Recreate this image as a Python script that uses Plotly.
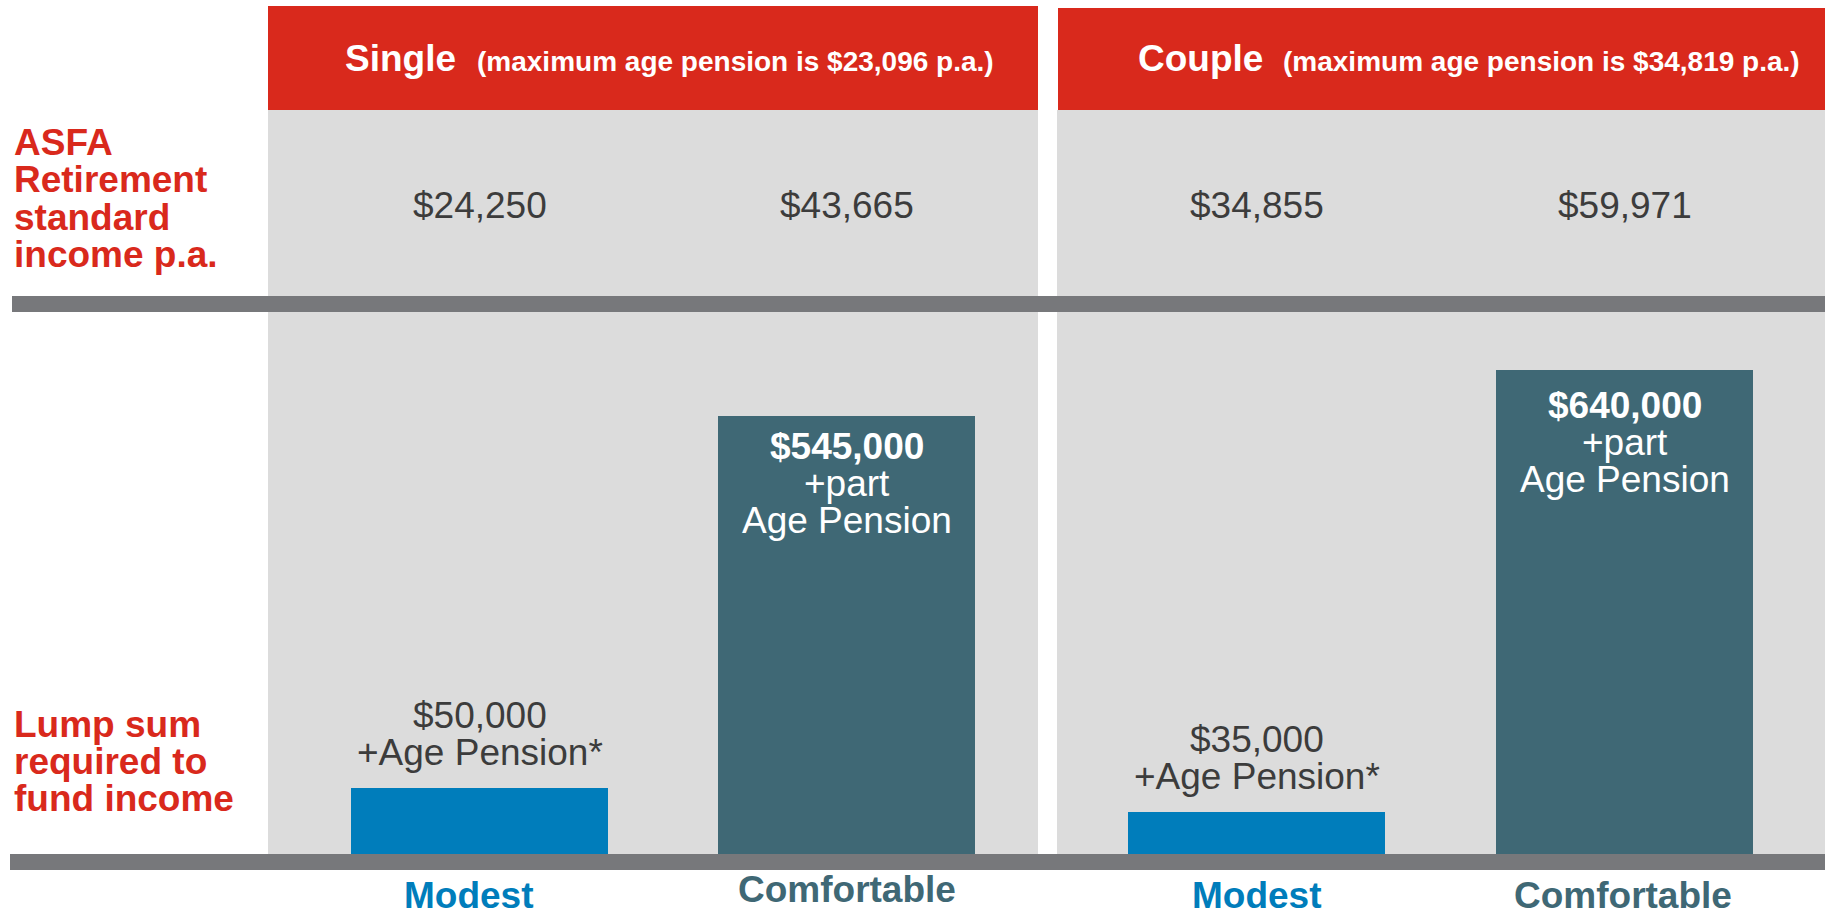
import plotly.graph_objects as go

# ---------------- data ----------------
levels = ["Modest", "Comfortable"]
groups = ["Single", "Couple"]
group_notes = ["(maximum age pension is $23,096 p.a.)", "(maximum age pension is $34,819 p.a.)"]
income_single = ["$24,250", "$43,665"]
income_couple = ["$34,855", "$59,971"]
lump_single = ["$50,000", "$545,000"]
lump_couple = ["$35,000", "$640,000"]
extra_single = ["+Age Pension*", "+part<br>Age Pension"]
extra_couple = ["+Age Pension*", "+part<br>Age Pension"]
# illustrative bar heights as drawn in the picture (relative units)
bar_single = [66, 438]
bar_couple = [42, 484]
row_label_top = ["ASFA", "Retirement", "standard", "income p.a."]
row_label_bottom = ["Lump sum", "required to", "fund income"]

# ---------------- style ----------------
W, H = 1825, 910
FONT = "Liberation Sans, Arial, sans-serif"
RED = "#d9291c"
GREY_BG = "#dcdcdc"
LINE = "#77787b"
TEXT = "#3c3c3c"
BAR_COLORS = ["#007dbb", "#3f6875"]
FS = 37


def X(px):
    return px / W


def Y(px):
    return 1 - px / H


fig = go.Figure()
fig.add_trace(go.Bar(x=levels, y=bar_single, marker_color=BAR_COLORS, marker_line_width=0,
                     width=0.70, xaxis="x", yaxis="y", hoverinfo="skip"))
fig.add_trace(go.Bar(x=levels, y=bar_couple, marker_color=BAR_COLORS, marker_line_width=0,
                     width=0.698, xaxis="x2", yaxis="y", hoverinfo="skip"))

axis_common = dict(showgrid=False, zeroline=False, showticklabels=False, ticks="",
                   showline=False, fixedrange=True, type="category")
fig.update_layout(
    width=W, height=H,
    margin=dict(l=0, r=0, t=0, b=0),
    paper_bgcolor="white", plot_bgcolor=GREY_BG,
    showlegend=False, bargap=0,
    font=dict(family=FONT, color=TEXT),
    xaxis=dict(domain=[X(268), X(1038)], range=[-0.5763, 1.5218], anchor="y", **axis_common),
    xaxis2=dict(domain=[X(1057), 1.0], range=[-0.5421, 1.5448], anchor="y", **axis_common),
    yaxis=dict(domain=[Y(854), Y(110)], range=[0, 744], showgrid=False, zeroline=False,
               showticklabels=False, showline=False, fixedrange=True),
)

shapes = [
    dict(type="rect", xref="paper", yref="paper", x0=X(268), x1=X(1038), y0=Y(110), y1=Y(6),
         fillcolor=RED, line_width=0, layer="above"),
    dict(type="rect", xref="paper", yref="paper", x0=X(1058), x1=1.0, y0=Y(110), y1=Y(8),
         fillcolor=RED, line_width=0, layer="above"),
    dict(type="rect", xref="paper", yref="paper", x0=X(12), x1=1.0, y0=Y(312), y1=Y(296),
         fillcolor=LINE, line_width=0, layer="above"),
    dict(type="rect", xref="paper", yref="paper", x0=X(10), x1=1.0, y0=Y(870), y1=Y(854),
         fillcolor=LINE, line_width=0, layer="above"),
]
fig.update_layout(shapes=shapes)

ann = []


def add(text, x, y, xref="paper", yref="paper", size=FS, color=TEXT, bold=False,
        xanchor="center", yanchor="middle", xshift=0, yshift=0):
    t = f"<b>{text}</b>" if bold else text
    ann.append(dict(text=t, x=x, y=y, xref=xref, yref=yref, showarrow=False,
                    font=dict(family=FONT, size=size, color=color),
                    xanchor=xanchor, yanchor=yanchor, xshift=xshift, yshift=yshift,
                    align="center"))


# headers
add(groups[0], X(343), Y(59), color="white", bold=True, xanchor="left")
add(group_notes[0], X(475), Y(62), size=28, color="white", bold=True, xanchor="left")
add(groups[1], X(1136), Y(59), color="white", bold=True, xanchor="left")
add(group_notes[1], X(1281), Y(62), size=28, color="white", bold=True, xanchor="left")

# left row labels
for i, t in enumerate(row_label_top):
    add(t, X(12), Y(142 + 37.5 * i), color=RED, bold=True, xanchor="left")
for i, t in enumerate(row_label_bottom):
    add(t, X(12), Y(724 + 37 * i), color=RED, bold=True, xanchor="left")

# income values
for xr, vals in (("x", income_single), ("x2", income_couple)):
    for lv, v in zip(levels, vals):
        add(v, lv, Y(206), xref=xr)

# lump-sum labels
inside_offset = {"x": 30, "x2": 35}
for xr, lumps, extras, bars in (("x", lump_single, extra_single, bar_single),
                                 ("x2", lump_couple, extra_couple, bar_couple)):
    # modest: text above the bar
    add(lumps[0], levels[0], bars[0], xref=xr, yref="y", yshift=73)
    add(extras[0], levels[0], bars[0], xref=xr, yref="y", yshift=36)
    # comfortable: text inside the bar
    off = inside_offset[xr]
    add(lumps[1], levels[1], bars[1], xref=xr, yref="y", color="white", bold=True, yshift=-off)
    for j, line in enumerate(extras[1].split("<br>")):
        add(line, levels[1], bars[1], xref=xr, yref="y", color="white",
            yshift=-(off + 37 * (j + 1)))

# category labels under the baseline
add(levels[0], levels[0], Y(895), xref="x", color=BAR_COLORS[0], bold=True, xshift=-11)
add(levels[1], levels[1], Y(889), xref="x", color=BAR_COLORS[1], bold=True)
add(levels[0], levels[0], Y(895), xref="x2", color=BAR_COLORS[0], bold=True)
add(levels[1], levels[1], Y(895), xref="x2", color=BAR_COLORS[1], bold=True, xshift=-2)

fig.update_layout(annotations=ann)
fig.write_html("out.html", config={"displayModeBar": False},
               post_script="document.body.style.margin='0';")
